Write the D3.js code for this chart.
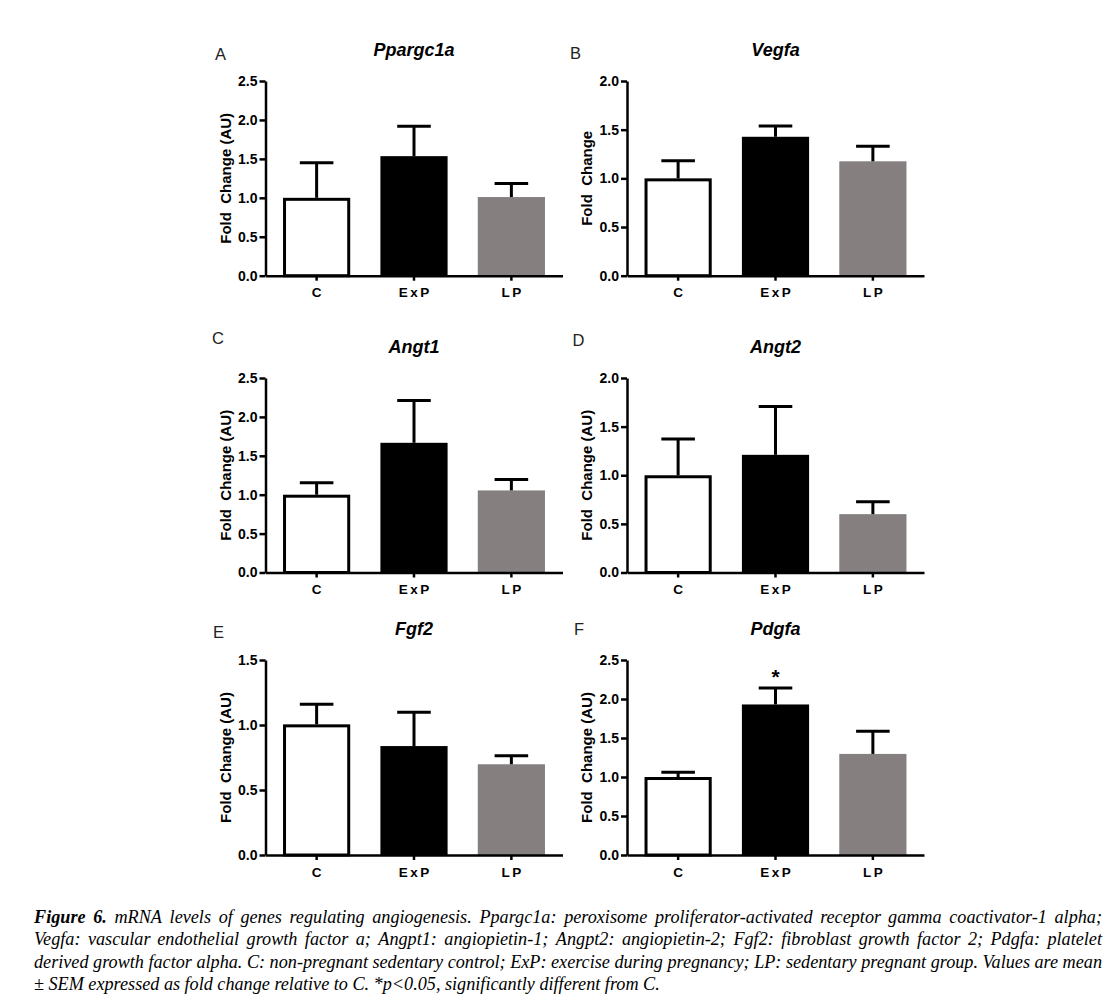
<!DOCTYPE html>
<html>
<head>
<meta charset="utf-8">
<script src="https://cdn.jsdelivr.net/npm/d3@7"></script>
<style>
  body { margin: 0; background: #fff; }
  svg { display: block; }
</style>
</head>
<body>
<div id="figure"></div>
<script>
// groups and panels
const groups = ["C", "ExP", "LP"];
const genes = ["Ppargc1a", "Vegfa", "Angt1", "Angt2", "Fgf2", "Pdgfa"];
const letters = ["A", "B", "C", "D", "E", "F"];
const yTitles = ["Fold  Change (AU)", "Fold  Change", "Fold  Change (AU)",
                 "Fold  Change (AU)", "Fold  Change (AU)", "Fold  Change (AU)"];
const yMax = [2.5, 2.0, 2.5, 2.0, 1.5, 2.5];

// mean and SEM
const ppargc1aMean = [1.00, 1.535, 1.01];
const ppargc1aSem  = [0.45, 0.385, 0.175];
const vegfaMean = [1.00, 1.427, 1.175];
const vegfaSem  = [0.18, 0.11, 0.155];
const angt1Mean = [1.00, 1.667, 1.055];
const angt1Sem  = [0.155, 0.543, 0.14];
const angt2Mean = [1.00, 1.21, 0.60];
const angt2Sem  = [0.372, 0.498, 0.127];
const fgf2Mean = [1.005, 0.838, 0.698];
const fgf2Sem  = [0.155, 0.26, 0.066];
const pdgfaMean = [1.00, 1.93, 1.296];
const pdgfaSem  = [0.06, 0.21, 0.291];
const pdgfaSig = ["", "*", ""];

const means = [ppargc1aMean, vegfaMean, angt1Mean, angt2Mean, fgf2Mean, pdgfaMean];
const sems = [ppargc1aSem, vegfaSem, angt1Sem, angt2Sem, fgf2Sem, pdgfaSem];
const sigs = [null, null, null, null, null, pdgfaSig];

const captionLines = [
  "mRNA levels of genes regulating angiogenesis. Ppargc1a: peroxisome proliferator-activated receptor gamma coactivator-1 alpha;",
  "Vegfa: vascular endothelial growth factor a; Angpt1: angiopietin-1; Angpt2: angiopietin-2; Fgf2: fibroblast growth factor 2; Pdgfa: platelet",
  "derived growth factor alpha. C: non-pregnant sedentary control; ExP: exercise during pregnancy; LP: sedentary pregnant group. Values are mean",
  "± SEM expressed as fold change relative to C. *p<0.05, significantly different from C."
];

const W = 1115, H = 1006;
const svg = d3.select("#figure").append("svg")
  .attr("width", W)
  .attr("height", H);

// layout of the six panels
const colX = [265.5, 627];
const rows = [[81, 275.7], [378, 572.5], [660, 855]];
const plotW = 297;
const letterPos = [[215, 59.5], [570, 58.5], [212, 343.5], [572.5, 346], [213, 638], [574, 635]];
const fills = ["#ffffff", "#000000", "#857f80"];
const sansFont = "Liberation Sans, Arial, sans-serif";

genes.forEach((gene, i) => {
  const x0 = colX[i % 2];
  const [top, bottom] = rows[Math.floor(i / 2)];

  const x = d3.scaleBand()
    .domain(groups)
    .range([x0, x0 + plotW])
    .paddingInner(0.31)
    .paddingOuter(0.18);

  const y = d3.scaleLinear()
    .domain([0, yMax[i]])
    .range([bottom, top]);

  const g = svg.append("g");

  const data = groups.map((grp, j) => ({ grp, mean: means[i][j], sem: sems[i][j], j }));

  // bars
  g.selectAll("rect.bar")
    .data(data)
    .enter()
    .append("rect")
    .attr("class", "bar")
    .attr("x", d => x(d.grp) + (d.j === 0 ? 1.5 : 0))
    .attr("y", d => y(d.mean) + (d.j === 0 ? 1.5 : 0))
    .attr("width", d => x.bandwidth() - (d.j === 0 ? 3 : 0))
    .attr("height", d => y(0) - y(d.mean) - (d.j === 0 ? 1.5 : 0))
    .attr("fill", d => fills[d.j])
    .attr("stroke", d => d.j === 0 ? "#000" : "none")
    .attr("stroke-width", 3);

  // error bars (upper half only)
  const cap = x.bandwidth() / 4;
  g.selectAll("line.err")
    .data(data)
    .enter()
    .append("line")
    .attr("x1", d => x(d.grp) + x.bandwidth() / 2)
    .attr("x2", d => x(d.grp) + x.bandwidth() / 2)
    .attr("y1", d => y(d.mean))
    .attr("y2", d => y(d.mean + d.sem))
    .attr("stroke", "#000")
    .attr("stroke-width", 3);

  g.selectAll("line.cap")
    .data(data)
    .enter()
    .append("line")
    .attr("x1", d => x(d.grp) + x.bandwidth() / 2 - cap)
    .attr("x2", d => x(d.grp) + x.bandwidth() / 2 + cap)
    .attr("y1", d => y(d.mean + d.sem))
    .attr("y2", d => y(d.mean + d.sem))
    .attr("stroke", "#000")
    .attr("stroke-width", 3);

  // significance marks
  if (sigs[i]) {
    g.selectAll("text.sig")
      .data(data.filter(d => sigs[i][d.j]))
      .enter()
      .append("text")
      .attr("x", d => x(d.grp) + x.bandwidth() / 2)
      .attr("y", d => y(d.mean + d.sem) - 4)
      .attr("text-anchor", "middle")
      .attr("font-family", sansFont)
      .attr("font-weight", "bold")
      .attr("font-size", 21)
      .text(d => sigs[i][d.j]);
  }

  // y axis
  const yAxis = g.append("g")
    .attr("transform", `translate(${x0},0)`)
    .call(d3.axisLeft(y)
      .tickValues(d3.range(0, yMax[i] + 0.001, 0.5))
      .tickFormat(d3.format(".1f"))
      .tickSize(6)
      .tickSizeOuter(0)
      .tickPadding(2));

  // x axis
  const xAxis = g.append("g")
    .attr("transform", `translate(0,${bottom})`)
    .call(d3.axisBottom(x)
      .tickSize(5)
      .tickSizeOuter(0)
      .tickPadding(7));

  [yAxis, xAxis].forEach(ax => {
    ax.select(".domain").attr("stroke", "#000").attr("stroke-width", 2.5);
    ax.selectAll(".tick line").attr("stroke", "#000").attr("stroke-width", 2.5);
    ax.selectAll(".tick text")
      .attr("fill", "#000")
      .attr("font-family", sansFont)
      .attr("font-weight", "bold")
      .attr("font-size", 14);
  });
  xAxis.selectAll(".tick text")
    .attr("font-size", 13.5)
    .attr("letter-spacing", 2.5)
    .attr("dx", 1.25);

  // y title
  g.append("text")
    .attr("transform", `translate(${x0 - 40},${(top + bottom) / 2}) rotate(-90)`)
    .attr("text-anchor", "middle")
    .attr("dy", "0.35em")
    .attr("font-family", sansFont)
    .attr("font-weight", "bold")
    .attr("font-size", 15)
    .style("white-space", "pre")
    .text(yTitles[i]);

  // panel title
  g.append("text")
    .attr("x", x0 + plotW / 2)
    .attr("y", top - 25)
    .attr("text-anchor", "middle")
    .attr("font-family", sansFont)
    .attr("font-weight", "bold")
    .attr("font-style", "italic")
    .attr("font-size", 18)
    .text(gene);

  // panel letter
  g.append("text")
    .attr("x", letterPos[i][0])
    .attr("y", letterPos[i][1])
    .attr("font-family", sansFont)
    .attr("font-size", 16.5)
    .attr("fill", "#222")
    .text(letters[i]);
});

// caption, justified like the journal layout
const capLeft = 34, capRight = 1102;
const capBase = [922.5, 945, 967.5, 990];

function captionLine(words, yy, justified) {
  const t = svg.append("text")
    .attr("y", yy)
    .attr("font-family", "Liberation Serif, Times New Roman, serif")
    .attr("font-style", "italic")
    .attr("font-size", 18.2)
    .attr("fill", "#000");
  const spans = words.map(w => t.append("tspan")
    .attr("font-weight", w.bold ? "bold" : null)
    .text(w.text));
  const widths = spans.map(s => s.node().getComputedTextLength());
  const total = d3.sum(widths);
  let gap = 4.5;
  if (justified) gap = (capRight - capLeft - total) / (words.length - 1);
  let cx = capLeft;
  spans.forEach((s, k) => {
    s.attr("x", cx);
    cx += widths[k] + gap;
  });
}

captionLines.forEach((line, k) => {
  let words = line.split(" ").map(w => ({ text: w, bold: false }));
  if (k === 0) words = [{ text: "Figure", bold: true }, { text: "6.", bold: true }].concat(words);
  captionLine(words, capBase[k], k < captionLines.length - 1);
});
</script>
</body>
</html>
